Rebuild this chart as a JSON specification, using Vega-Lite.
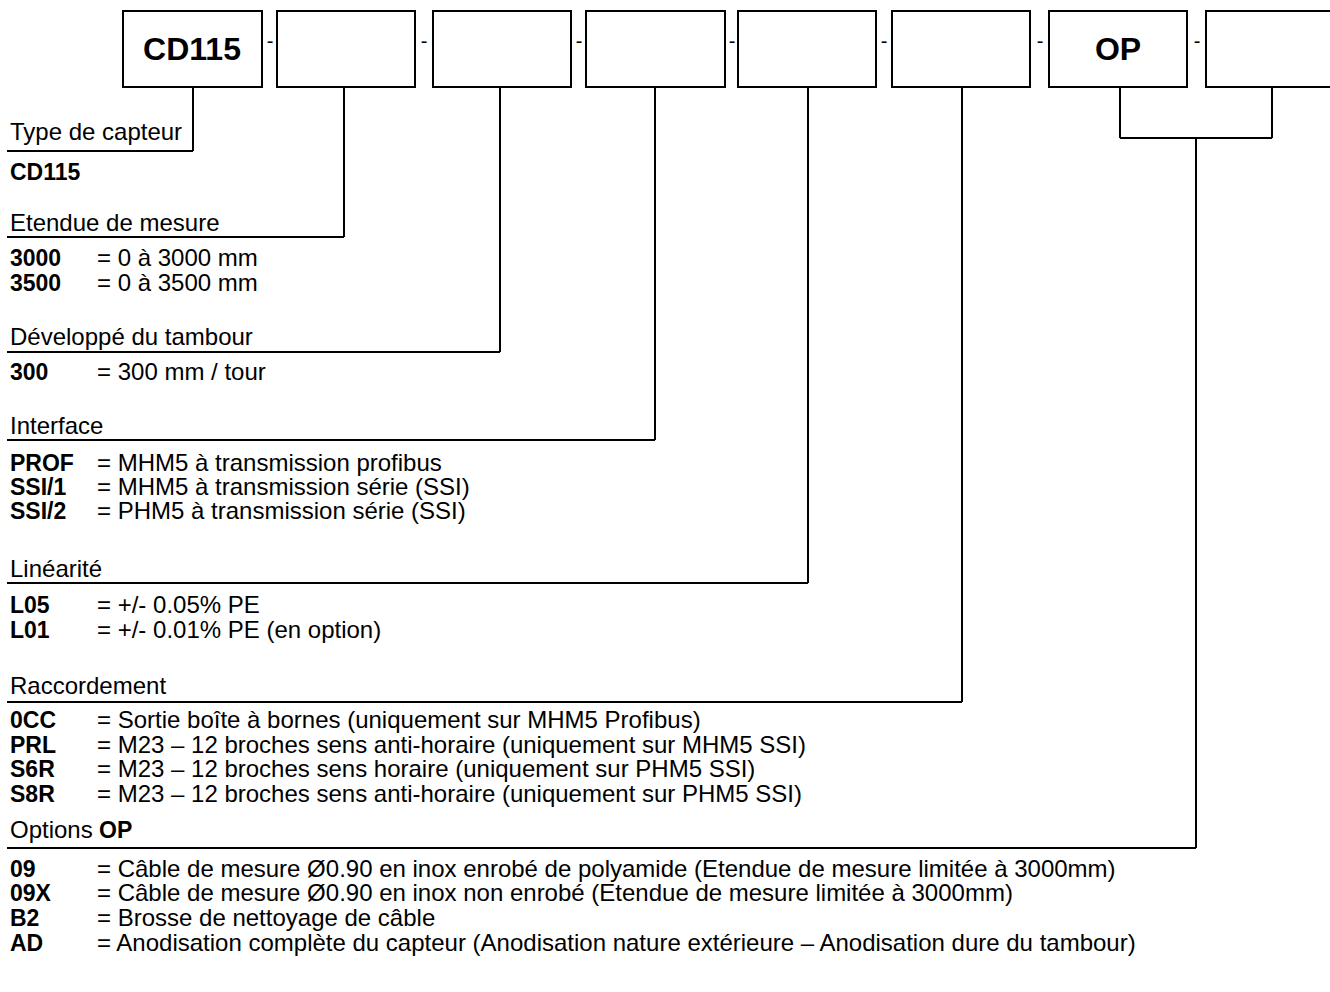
{
  "$schema": "https://vega.github.io/schema/vega-lite/v6.json",
  "width": 1330,
  "height": 992,
  "padding": 0,
  "autosize": {"type": "none"},
  "background": "white",
  "config": {"view": {"stroke": null}},
  "datasets": {
    "boxes": [
      {"x": 123, "x2": 262, "y": 11, "y2": 87},
      {"x": 277, "x2": 415, "y": 11, "y2": 87},
      {"x": 433, "x2": 571, "y": 11, "y2": 87},
      {"x": 586, "x2": 725, "y": 11, "y2": 87},
      {"x": 738, "x2": 876, "y": 11, "y2": 87},
      {"x": 892, "x2": 1030, "y": 11, "y2": 87},
      {"x": 1049, "x2": 1187, "y": 11, "y2": 87},
      {"x": 1206, "x2": 1345, "y": 11, "y2": 87}
    ],
    "boxlabels": [
      {"x": 192, "y": 50, "t": "CD115"},
      {"x": 1118, "y": 50, "t": "OP"}
    ],
    "dashes": [
      {"x": 270, "y": 42, "t": "-"},
      {"x": 424, "y": 42, "t": "-"},
      {"x": 579, "y": 42, "t": "-"},
      {"x": 732, "y": 42, "t": "-"},
      {"x": 884, "y": 42, "t": "-"},
      {"x": 1040, "y": 42, "t": "-"},
      {"x": 1197, "y": 42, "t": "-"}
    ],
    "lines": [
      {"x": 193, "y": 87, "x2": 193, "y2": 151},
      {"x": 7, "y": 151, "x2": 193, "y2": 151},
      {"x": 344, "y": 87, "x2": 344, "y2": 237},
      {"x": 7, "y": 237, "x2": 344, "y2": 237},
      {"x": 500, "y": 87, "x2": 500, "y2": 352},
      {"x": 7, "y": 352, "x2": 500, "y2": 352},
      {"x": 655, "y": 87, "x2": 655, "y2": 440},
      {"x": 7, "y": 440, "x2": 655, "y2": 440},
      {"x": 808, "y": 87, "x2": 808, "y2": 583},
      {"x": 7, "y": 583, "x2": 808, "y2": 583},
      {"x": 962, "y": 87, "x2": 962, "y2": 702},
      {"x": 7, "y": 702, "x2": 962, "y2": 702},
      {"x": 1120, "y": 87, "x2": 1120, "y2": 138},
      {"x": 1272, "y": 87, "x2": 1272, "y2": 138},
      {"x": 1120, "y": 138, "x2": 1272, "y2": 138},
      {"x": 1196, "y": 138, "x2": 1196, "y2": 848},
      {"x": 7, "y": 848, "x2": 1196, "y2": 848}
    ],
    "headings": [
      {"x": 10, "y": 133, "t": "Type de capteur"},
      {"x": 10, "y": 224, "t": "Etendue de mesure"},
      {"x": 10, "y": 338, "t": "Développé du tambour"},
      {"x": 10, "y": 427, "t": "Interface"},
      {"x": 10, "y": 570, "t": "Linéarité"},
      {"x": 10, "y": 687, "t": "Raccordement"},
      {"x": 10, "y": 831, "t": "Options "}
    ],
    "codes": [
      {"x": 10, "y": 173, "t": "CD115"},
      {"x": 10, "y": 259, "t": "3000"},
      {"x": 10, "y": 284, "t": "3500"},
      {"x": 10, "y": 373, "t": "300"},
      {"x": 10, "y": 464, "t": "PROF"},
      {"x": 10, "y": 488, "t": "SSI/1"},
      {"x": 10, "y": 512, "t": "SSI/2"},
      {"x": 10, "y": 606, "t": "L05"},
      {"x": 10, "y": 631, "t": "L01"},
      {"x": 10, "y": 721, "t": "0CC"},
      {"x": 10, "y": 746, "t": "PRL"},
      {"x": 10, "y": 770, "t": "S6R"},
      {"x": 10, "y": 795, "t": "S8R"},
      {"x": 99, "y": 831, "t": "OP"},
      {"x": 10, "y": 870, "t": "09"},
      {"x": 10, "y": 894, "t": "09X"},
      {"x": 10, "y": 919, "t": "B2"},
      {"x": 10, "y": 944, "t": "AD"}
    ],
    "descs": [
      {"x": 97, "y": 259, "t": "= 0 à 3000 mm"},
      {"x": 97, "y": 284, "t": "= 0 à 3500 mm"},
      {"x": 97, "y": 373, "t": "= 300 mm / tour"},
      {"x": 97, "y": 464, "t": "= MHM5 à transmission profibus"},
      {"x": 97, "y": 488, "t": "= MHM5 à transmission série (SSI)"},
      {"x": 97, "y": 512, "t": "= PHM5 à transmission série (SSI)"},
      {"x": 97, "y": 606, "t": "= +/- 0.05% PE"},
      {"x": 97, "y": 631, "t": "= +/- 0.01% PE (en option)"},
      {"x": 97, "y": 721, "t": "= Sortie boîte à bornes (uniquement sur MHM5 Profibus)"},
      {"x": 97, "y": 746, "t": "= M23 – 12 broches sens anti-horaire (uniquement sur MHM5 SSI)"},
      {"x": 97, "y": 770, "t": "= M23 – 12 broches sens horaire (uniquement sur PHM5 SSI)"},
      {"x": 97, "y": 795, "t": "= M23 – 12 broches sens anti-horaire (uniquement sur PHM5 SSI)"},
      {"x": 97, "y": 870, "t": "= Câble de mesure Ø0.90 en inox enrobé de polyamide (Etendue de mesure limitée à 3000mm)"},
      {"x": 97, "y": 894, "t": "= Câble de mesure Ø0.90 en inox non enrobé (Etendue de mesure limitée à 3000mm)"},
      {"x": 97, "y": 919, "t": "= Brosse de nettoyage de câble"},
      {"x": 97, "y": 944, "t": "= Anodisation complète du capteur (Anodisation nature extérieure – Anodisation dure du tambour)"}
    ]
  },
  "layer": [
    {
      "data": {"name": "boxes"},
      "mark": {"type": "rect", "fill": "white", "stroke": "black", "strokeWidth": 2},
      "encoding": {
        "x": {"field": "x", "type": "quantitative", "scale": {"domain": [0, 1330]}, "axis": null},
        "x2": {"field": "x2"},
        "y": {"field": "y", "type": "quantitative", "scale": {"domain": [992, 0]}, "axis": null},
        "y2": {"field": "y2"}
      }
    },
    {
      "data": {"name": "lines"},
      "mark": {"type": "rule", "stroke": "black", "strokeWidth": 2},
      "encoding": {
        "x": {"field": "x", "type": "quantitative", "scale": {"domain": [0, 1330]}, "axis": null},
        "x2": {"field": "x2"},
        "y": {"field": "y", "type": "quantitative", "scale": {"domain": [992, 0]}, "axis": null},
        "y2": {"field": "y2"}
      }
    },
    {
      "data": {"name": "boxlabels"},
      "mark": {"type": "text", "font": "Liberation Sans", "fontSize": 32, "fontWeight": "bold", "align": "center", "baseline": "middle", "color": "black"},
      "encoding": {
        "x": {"field": "x", "type": "quantitative", "scale": {"domain": [0, 1330]}, "axis": null},
        "y": {"field": "y", "type": "quantitative", "scale": {"domain": [992, 0]}, "axis": null},
        "text": {"field": "t"}
      }
    },
    {
      "data": {"name": "dashes"},
      "mark": {"type": "text", "font": "Liberation Sans", "fontSize": 20, "align": "center", "baseline": "middle", "color": "black"},
      "encoding": {
        "x": {"field": "x", "type": "quantitative", "scale": {"domain": [0, 1330]}, "axis": null},
        "y": {"field": "y", "type": "quantitative", "scale": {"domain": [992, 0]}, "axis": null},
        "text": {"field": "t"}
      }
    },
    {
      "data": {"name": "headings"},
      "mark": {"type": "text", "font": "Liberation Sans", "fontSize": 24, "align": "left", "baseline": "middle", "color": "black"},
      "encoding": {
        "x": {"field": "x", "type": "quantitative", "scale": {"domain": [0, 1330]}, "axis": null},
        "y": {"field": "y", "type": "quantitative", "scale": {"domain": [992, 0]}, "axis": null},
        "text": {"field": "t"}
      }
    },
    {
      "data": {"name": "codes"},
      "mark": {"type": "text", "font": "Liberation Sans", "fontSize": 23, "fontWeight": "bold", "align": "left", "baseline": "middle", "color": "black"},
      "encoding": {
        "x": {"field": "x", "type": "quantitative", "scale": {"domain": [0, 1330]}, "axis": null},
        "y": {"field": "y", "type": "quantitative", "scale": {"domain": [992, 0]}, "axis": null},
        "text": {"field": "t"}
      }
    },
    {
      "data": {"name": "descs"},
      "mark": {"type": "text", "font": "Liberation Sans", "fontSize": 24, "align": "left", "baseline": "middle", "color": "black"},
      "encoding": {
        "x": {"field": "x", "type": "quantitative", "scale": {"domain": [0, 1330]}, "axis": null},
        "y": {"field": "y", "type": "quantitative", "scale": {"domain": [992, 0]}, "axis": null},
        "text": {"field": "t"}
      }
    }
  ]
}
